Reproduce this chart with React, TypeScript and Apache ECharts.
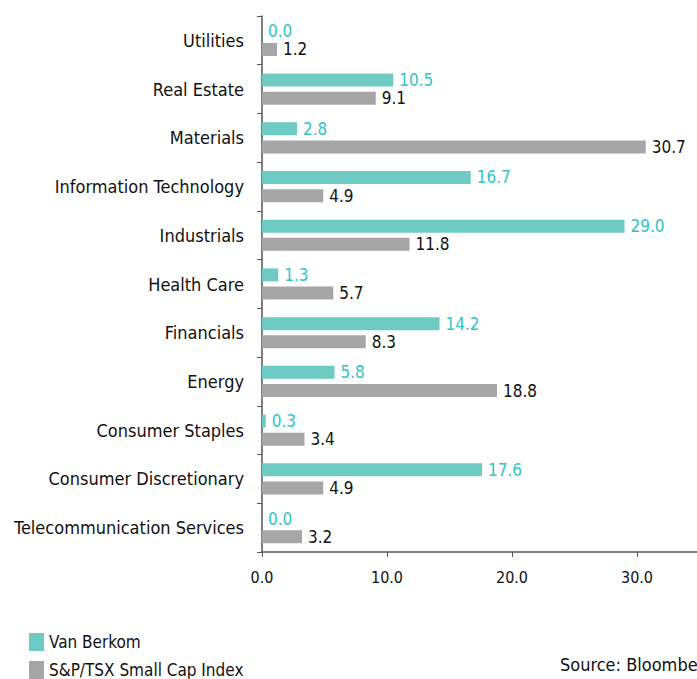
import React, { useEffect, useRef } from "react";
import * as echarts from "echarts";

const categories = [
  "Utilities",
  "Real Estate",
  "Materials",
  "Information Technology",
  "Industrials",
  "Health Care",
  "Financials",
  "Energy",
  "Consumer Staples",
  "Consumer Discretionary",
  "Telecommunication Services",
];
const vanBerkom = [0.0, 10.5, 2.8, 16.7, 29.0, 1.3, 14.2, 5.8, 0.3, 17.6, 0.0];
const tsxSmallCap = [1.2, 9.1, 30.7, 4.9, 11.8, 5.7, 8.3, 18.8, 3.4, 4.9, 3.2];
const seriesNames = ["Van Berkom", "S&P/TSX Small Cap Index"];
const sourceText = "Source: Bloomberg";

const FONT = "'DejaVu Sans Condensed', 'Liberation Sans Narrow', sans-serif";

export default function App() {
  const ref = useRef<HTMLDivElement>(null);
  useEffect(() => {
    if (!ref.current) return;
    const chart = echarts.init(ref.current, null, { renderer: "svg" });
    chart.setOption({
      animation: false,
      backgroundColor: "#ffffff",
      textStyle: { fontFamily: FONT },
      grid: { left: 262, right: 0, top: 16, bottom: 127, containLabel: false },
      legend: {
        orient: "vertical",
        left: 29,
        top: 633,
        padding: 0,
        itemWidth: 15,
        itemHeight: 18,
        itemGap: 10,
        icon: "rect",
        textStyle: { fontFamily: FONT, fontSize: 17, color: "#111" },
        data: seriesNames,
      },
      graphic: [
        {
          type: "text",
          left: 560,
          top: 655,
          style: { text: sourceText, font: `18px ${FONT}`, fill: "#111" },
        },
      ],
      xAxis: {
        type: "value",
        min: 0,
        max: 34.8,
        interval: 10,
        splitLine: { show: false },
        axisLine: { show: true, lineStyle: { color: "#555", width: 1.5 } },
        axisTick: { show: true, length: 5, lineStyle: { color: "#555" } },
        axisLabel: {
          margin: 17,
          fontSize: 16,
          fontFamily: FONT,
          color: "#111",
          showMaxLabel: false,
          formatter: (v: number) => (v % 10 === 0 ? v.toFixed(1) : ""),
        },
      },
      yAxis: {
        type: "category",
        inverse: true,
        data: categories,
        axisLine: { show: true, lineStyle: { color: "#555", width: 1.5 } },
        axisTick: { show: true, length: 5, lineStyle: { color: "#555" } },
        axisLabel: { margin: 18, fontSize: 18, fontFamily: FONT, color: "#111" },
      },
      series: [
        {
          name: seriesNames[0],
          type: "bar",
          data: vanBerkom,
          barWidth: 13,
          barGap: "40%",
          itemStyle: { color: "#6dcbc3" },
          label: {
            show: true,
            position: "right",
            distance: 6,
            fontSize: 17,
            fontFamily: FONT,
            color: "#2fc4c8",
            formatter: (p: any) => Number(p.value).toFixed(1),
          },
        },
        {
          name: seriesNames[1],
          type: "bar",
          data: tsxSmallCap,
          barWidth: 13,
          itemStyle: { color: "#a6a6a6" },
          label: {
            show: true,
            position: "right",
            distance: 6,
            fontSize: 17,
            fontFamily: FONT,
            color: "#111",
            formatter: (p: any) => Number(p.value).toFixed(1),
          },
        },
      ],
    });
    return () => chart.dispose();
  }, []);
  return (
    <div
      ref={ref}
      style={{ position: "absolute", left: 0, top: 0, width: 697, height: 679 }}
    />
  );
}
